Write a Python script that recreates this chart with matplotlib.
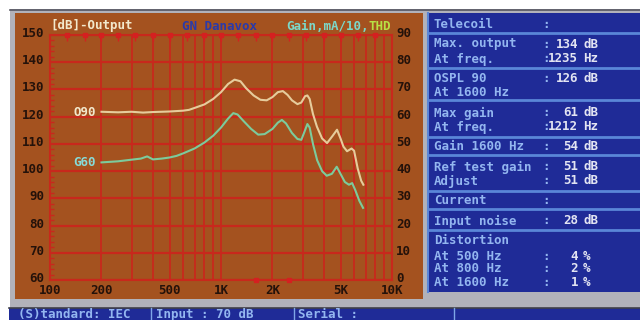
import matplotlib.pyplot as plt
from matplotlib.patches import Rectangle
from matplotlib.lines import Line2D
from matplotlib.ticker import FixedLocator, NullFormatter
from matplotlib.transforms import ScaledTranslation

W, H = 640, 320

o90_freq = [200, 250, 300, 350, 400, 500, 600, 650, 700, 800, 900, 1000, 1100, 1200,
            1300, 1400, 1550, 1700, 1850, 2000, 2150, 2300, 2450, 2600, 2800, 2950,
            3100, 3200, 3300, 3450, 3640, 3900, 4170, 4500, 4770, 5000, 5200, 5460,
            5800, 6000, 6300, 6600, 6800]
o90_db = [121.8, 121.6, 121.8, 121.5, 121.7, 121.9, 122.2, 122.5, 123.2, 124.5, 126.5,
          129.0, 132.0, 133.6, 133.0, 130.5, 127.8, 126.2, 126.0, 127.2, 129.0, 129.4,
          128.0, 126.0, 124.6, 125.2, 127.5, 127.8, 126.5, 121.0, 116.3, 112.0, 110.3,
          113.0, 115.2, 112.0, 109.0, 107.3, 108.3, 107.5, 101.0, 96.5, 95.0]

g60_freq = [200, 250, 300, 340, 370, 400, 450, 500, 550, 600, 700, 800, 900, 1000,
            1100, 1180, 1250, 1350, 1500, 1650, 1800, 2000, 2150, 2270, 2400, 2600,
            2800, 2950, 3100, 3200, 3300, 3450, 3650, 3900, 4150, 4450, 4750, 4950,
            5300, 5600, 5850, 6100, 6450, 6770]
g60_db = [103.2, 103.6, 104.2, 104.6, 105.4, 104.3, 104.6, 105.0, 105.6, 106.5, 108.3,
          110.5, 113.0, 116.0, 119.3, 121.3, 120.8, 118.5, 115.5, 113.4, 113.6, 115.5,
          117.8, 118.8, 117.5, 114.0, 111.8, 111.5, 115.0, 117.3, 116.0, 110.0, 104.0,
          100.0, 98.3, 99.0, 101.6, 99.5, 96.0, 95.0, 95.6, 93.0, 89.0, 86.5]

third_oct = [125, 160, 200, 250, 315, 400, 500, 630, 800, 1000, 1250, 1600, 2000,
             2500, 3150, 4000, 5000, 6300, 8000]
thd_freq = [1600, 2500]
thd_val = [0, 0]

left_ticks = [60, 70, 80, 90, 100, 110, 120, 130, 140, 150]
right_ticks = [0, 10, 20, 30, 40, 50, 60, 70, 80, 90]
x_ticks = [100, 200, 500, 1000, 2000, 5000, 10000]
x_labels = ['100', '200', '500', '1K', '2K', '5K', '10K']
x_grid = [100, 200, 300, 400, 500, 600, 700, 800, 900, 1000, 2000, 3000, 4000,
          5000, 6000, 7000, 8000, 9000, 10000]

panel_labels = ['Telecoil', 'Max. output', 'At freq.', 'OSPL 90', 'At 1600 Hz',
                'Max gain', 'At freq.', 'Gain 1600 Hz', 'Ref test gain', 'Adjust',
                'Current', 'Input noise', 'Distortion', 'At 500 Hz', 'At 800 Hz',
                'At 1600 Hz']
panel_values = ['', '134', '1235', '126', None, '61', '1212', '54', '51', '51', '',
                '28', None, '4', '2', '1']
panel_units = ['', 'dB', 'Hz', 'dB', '', 'dB', 'Hz', 'dB', 'dB', 'dB', '', 'dB', '',
               '%', '%', '%']
status_texts = ['(S)tandard: IEC', 'Input : 70 dB', 'Serial :']

# layout (pixels from top-left)
row_y = [24, 44, 59, 78, 93, 113, 127, 146, 167, 181, 201, 221, 241, 256, 268, 283]
sep_y = [33, 68, 100, 137, 155, 191, 209, 230]
status_x = [18, 156, 298]
status_sep = [151, 294, 454]

ORANGE = '#A4521F'
GRID = '#C8281C'
BLUE = '#1F2B97'
LBLUE = '#93B6F0'
GREY = '#B2B2BA'
MONO = 'DejaVu Sans Mono'
FS = 9


def fx(x):
    return x / W


def fy(y):
    return 1 - y / H


fig = plt.figure(figsize=(W / 100, H / 100), dpi=100, facecolor='white')


def rect(x0, y0, x1, y1, color, z=-5):
    fig.add_artist(Rectangle((fx(x0), fy(y1)), (x1 - x0) / W, (y1 - y0) / H,
                             transform=fig.transFigure, facecolor=color,
                             edgecolor='none', zorder=z))


def hline(x0, x1, y, color, lw):
    fig.add_artist(Line2D([fx(x0), fx(x1)], [fy(y), fy(y)], transform=fig.transFigure,
                          color=color, lw=lw, zorder=-4))


def vline(x, y0, y1, color, lw):
    fig.add_artist(Line2D([fx(x), fx(x)], [fy(y0), fy(y1)], transform=fig.transFigure,
                          color=color, lw=lw, zorder=-4))


def txt(x, y, s, color, ha='left'):
    fig.text(fx(x), fy(y), s, color=color, ha=ha, va='center', family=MONO,
             weight='bold', fontsize=FS)


# frames
rect(10, 9, 640, 308, GREY)
hline(10, 640, 9.5, '#555560', 1.2)
rect(15, 13, 423, 299, ORANGE)
rect(427, 13, 640, 292, BLUE)
vline(428, 13, 292, '#5A86D8', 1.5)
rect(9, 308, 640, 320, BLUE)
hline(9, 640, 307.5, '#404048', 1.2)
for sx in status_sep:
    vline(sx, 308, 320, '#7FA6E8', 1.0)
for sx, s in zip(status_x, status_texts):
    txt(sx, 314.5, s, LBLUE)

# info panel
for y in sep_y:
    hline(429, 640, y, '#5A86D8', 2.0)
for y, lab, val, unit in zip(row_y, panel_labels, panel_values, panel_units):
    txt(434, y, lab, LBLUE)
    if val is None:
        continue
    txt(542, y, ':', LBLUE)
    if val:
        txt(578, y, val, '#E2E4F2', ha='right')
    if unit:
        txt(583, y, unit, '#E2E4F2')

# chart
ax = fig.add_axes([fx(50), fy(280), (392 - 50) / W, (280 - 35) / H])
ax.set_facecolor('none')
ax.set_xscale('log')
ax.set_xlim(100, 10000)
ax.set_ylim(60, 150)
ax.xaxis.set_major_locator(FixedLocator(x_ticks))
ax.xaxis.set_minor_locator(FixedLocator(x_grid))
ax.xaxis.set_minor_formatter(NullFormatter())
ax.set_xticklabels(x_labels)
ax.yaxis.set_major_locator(FixedLocator(left_ticks))
ax.yaxis.set_minor_locator(FixedLocator(list(range(60, 151, 2))))
ax.grid(True, which='both', axis='x', color=GRID, lw=1.3)
ax.grid(True, which='major', axis='y', color=GRID, lw=1.6)
ax.tick_params(which='major', length=0, pad=4, labelsize=FS, labelcolor='#24120A')
ax.tick_params(axis='x', which='major', pad=3)
ax.tick_params(axis='y', which='minor', length=3, color=GRID, direction='in', width=1)
ax.tick_params(axis='x', which='minor', length=0)
for sp in ax.spines.values():
    sp.set_color(GRID)
    sp.set_linewidth(1.5)

ax.vlines(third_oct, 147.8, 150, color='#D42020', lw=1.0, zorder=3)
ax.plot(third_oct, [150] * len(third_oct), ls='none', marker='s', ms=2.6,
        color='#D42020', clip_on=False, zorder=3)

ax.plot(o90_freq, o90_db, color='#E6CC9C', lw=1.5, zorder=4)
ax.plot(g60_freq, g60_db, color='#7CCB9C', lw=1.5, zorder=4)

ax2 = ax.twinx()
ax2.set_ylim(0, 90)
ax2.yaxis.set_major_locator(FixedLocator(right_ticks))
ax2.tick_params(length=0, pad=3, labelsize=FS, labelcolor='#24120A')
for sp in ax2.spines.values():
    sp.set_visible(False)
ax2.plot(thd_freq, thd_val, ls='none', marker='s', ms=3, color='#D42020',
         clip_on=False, zorder=4)

# value labels sit a little above their grid lines on the screen
lift = ScaledTranslation(0, 3 / 100, fig.dpi_scale_trans)
for a in (ax, ax2):
    for lab in a.get_yticklabels():
        lab.set_transform(lab.get_transform() + lift)
for lab in ax.get_xticklabels() + ax.get_yticklabels() + ax2.get_yticklabels():
    lab.set_family(MONO)
    lab.set_weight('bold')

# labels inside the chart
cw = 0.602 * FS * 100 / 72
txt(50, 26, '[dB]-Output', '#F2E8CC')
txt(182, 26, 'GN Danavox', '#2A3AAA')
txt(286, 26, 'Gain,mA/10,', '#7CD8C8')
txt(286 + 11 * cw, 26, 'THD', '#B8E044')
txt(73, 112, 'O90', '#F2E8CC')
txt(73, 162, 'G60', '#86DCD8')

fig.savefig('out.png', dpi=100, facecolor='white')
